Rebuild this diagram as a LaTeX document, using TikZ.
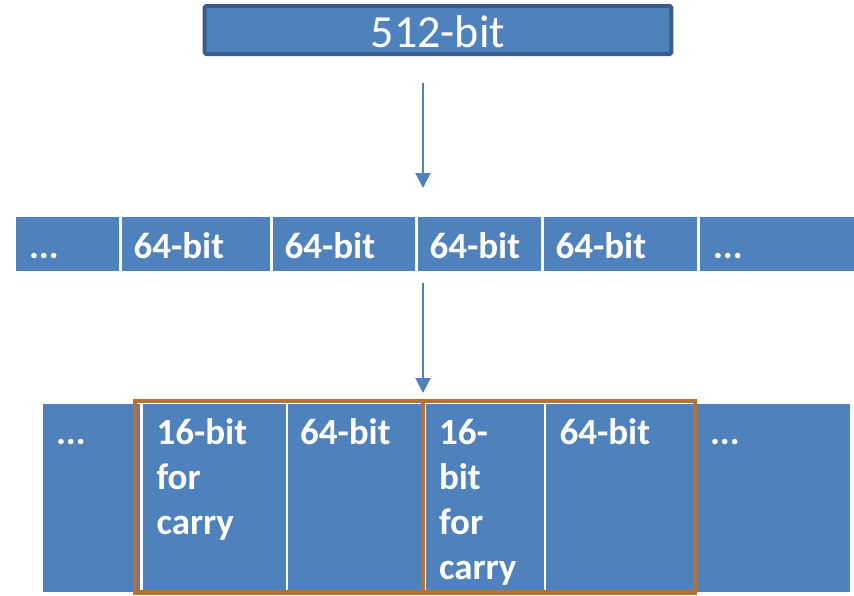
\documentclass[tikz,border=0pt]{standalone}
\usepackage{fontspec}
\setmainfont{Carlito}
\usetikzlibrary{arrows.meta}
\definecolor{cellblue}{RGB}{79,129,189}
\definecolor{edgeblue}{RGB}{56,93,138}
\definecolor{groupbrown}{RGB}{184,112,48}

\begin{document}
\begin{tikzpicture}[x=1pt,y=-1pt,
  cell/.style={fill=cellblue, inner sep=0pt, outer sep=0pt},
  rowcell/.style={cell, minimum height=54pt},
  limbcell/.style={cell, minimum height=188pt},
  celltext/.style={anchor=base west, inner sep=0pt, outer sep=0pt, text=white,
    font=\fontsize{37}{45}\selectfont\bfseries},
  flow/.style={draw=cellblue, line width=2pt, -{Triangle[width=15pt,length=15pt]}},
  group/.style={draw=groupbrown, line width=4.5pt}]
\useasboundingbox (0,0) rectangle (854,595);

% 512-bit input block
\node[draw=edgeblue, fill=cellblue, line width=4pt, rounded corners=1.5pt,
  minimum width=466.6pt, minimum height=48pt, inner sep=0pt] (word) at (438,30) {};
\node[anchor=base, inner sep=0pt, text=white, font=\fontsize{46}{50}\selectfont]
  (wordtext) at (438,47) {512-bit};

% row of 64-bit limbs
\node[rowcell, minimum width=103.3pt] (m1) at (67.65,243.7) {};
\node[rowcell, minimum width=148pt]   (m2) at (196,243.7) {};
\node[rowcell, minimum width=142.6pt] (m3) at (344,243.7) {};
\node[rowcell, minimum width=123.3pt] (m4) at (479.65,243.7) {};
\node[rowcell, minimum width=153.3pt] (m5) at (620.65,243.7) {};
\node[rowcell, minimum width=154pt]   (m6) at (777,243.7) {};
\node[celltext] (mt1) at (29,258) {...};
\node[celltext] (mt2) at (133.5,258) {64-bit};
\node[celltext] (mt3) at (284.5,258) {64-bit};
\node[celltext] (mt4) at (429.5,258) {64-bit};
\node[celltext] (mt5) at (555.5,258) {64-bit};
\node[celltext] (mt6) at (713,258) {...};

% row of limbs with carry space
\node[limbcell, minimum width=97pt]  (b1) at (91.5,498) {};
\node[limbcell, minimum width=143pt] (b2) at (214.5,498) {};
\node[limbcell, minimum width=135pt] (b3) at (355.5,498) {};
\node[limbcell, minimum width=118pt] (b4) at (485,498) {};
\node[limbcell, minimum width=149pt] (b5) at (620.5,498) {};
\node[limbcell, minimum width=153pt] (b6) at (773.5,498) {};
\node[celltext] (bt1) at (56,444) {...};
\node[celltext] (bt2) at (156.5,444) {\parbox[t]{140pt}{\raggedright 16-bit\\for\\carry}};
\node[celltext] (bt3) at (300,444) {64-bit};
\node[celltext] (bt4) at (439,444) {\parbox[t]{110pt}{\raggedright 16-\\bit\\for\\carry}};
\node[celltext] (bt5) at (559.5,444) {64-bit};
\node[celltext] (bt6) at (710,444) {...};

% grouping frame around two carry/limb pairs
\node[group, minimum width=560pt, minimum height=191.5pt, inner sep=0pt] (pair) at (415,496.75) {};
\coordinate (divtop) at (423,401);
\coordinate (divbot) at (423,592.5);
\draw[group] (divtop) -- (divbot);

% arrows between stages
\coordinate (a1s) at (423,83);
\coordinate (a1e) at (423,188);
\coordinate (a2s) at (423,283);
\coordinate (a2e) at (423,393);
\draw[flow] (a1s) -- (a1e);
\draw[flow] (a2s) -- (a2e);
\end{tikzpicture}
\end{document}
